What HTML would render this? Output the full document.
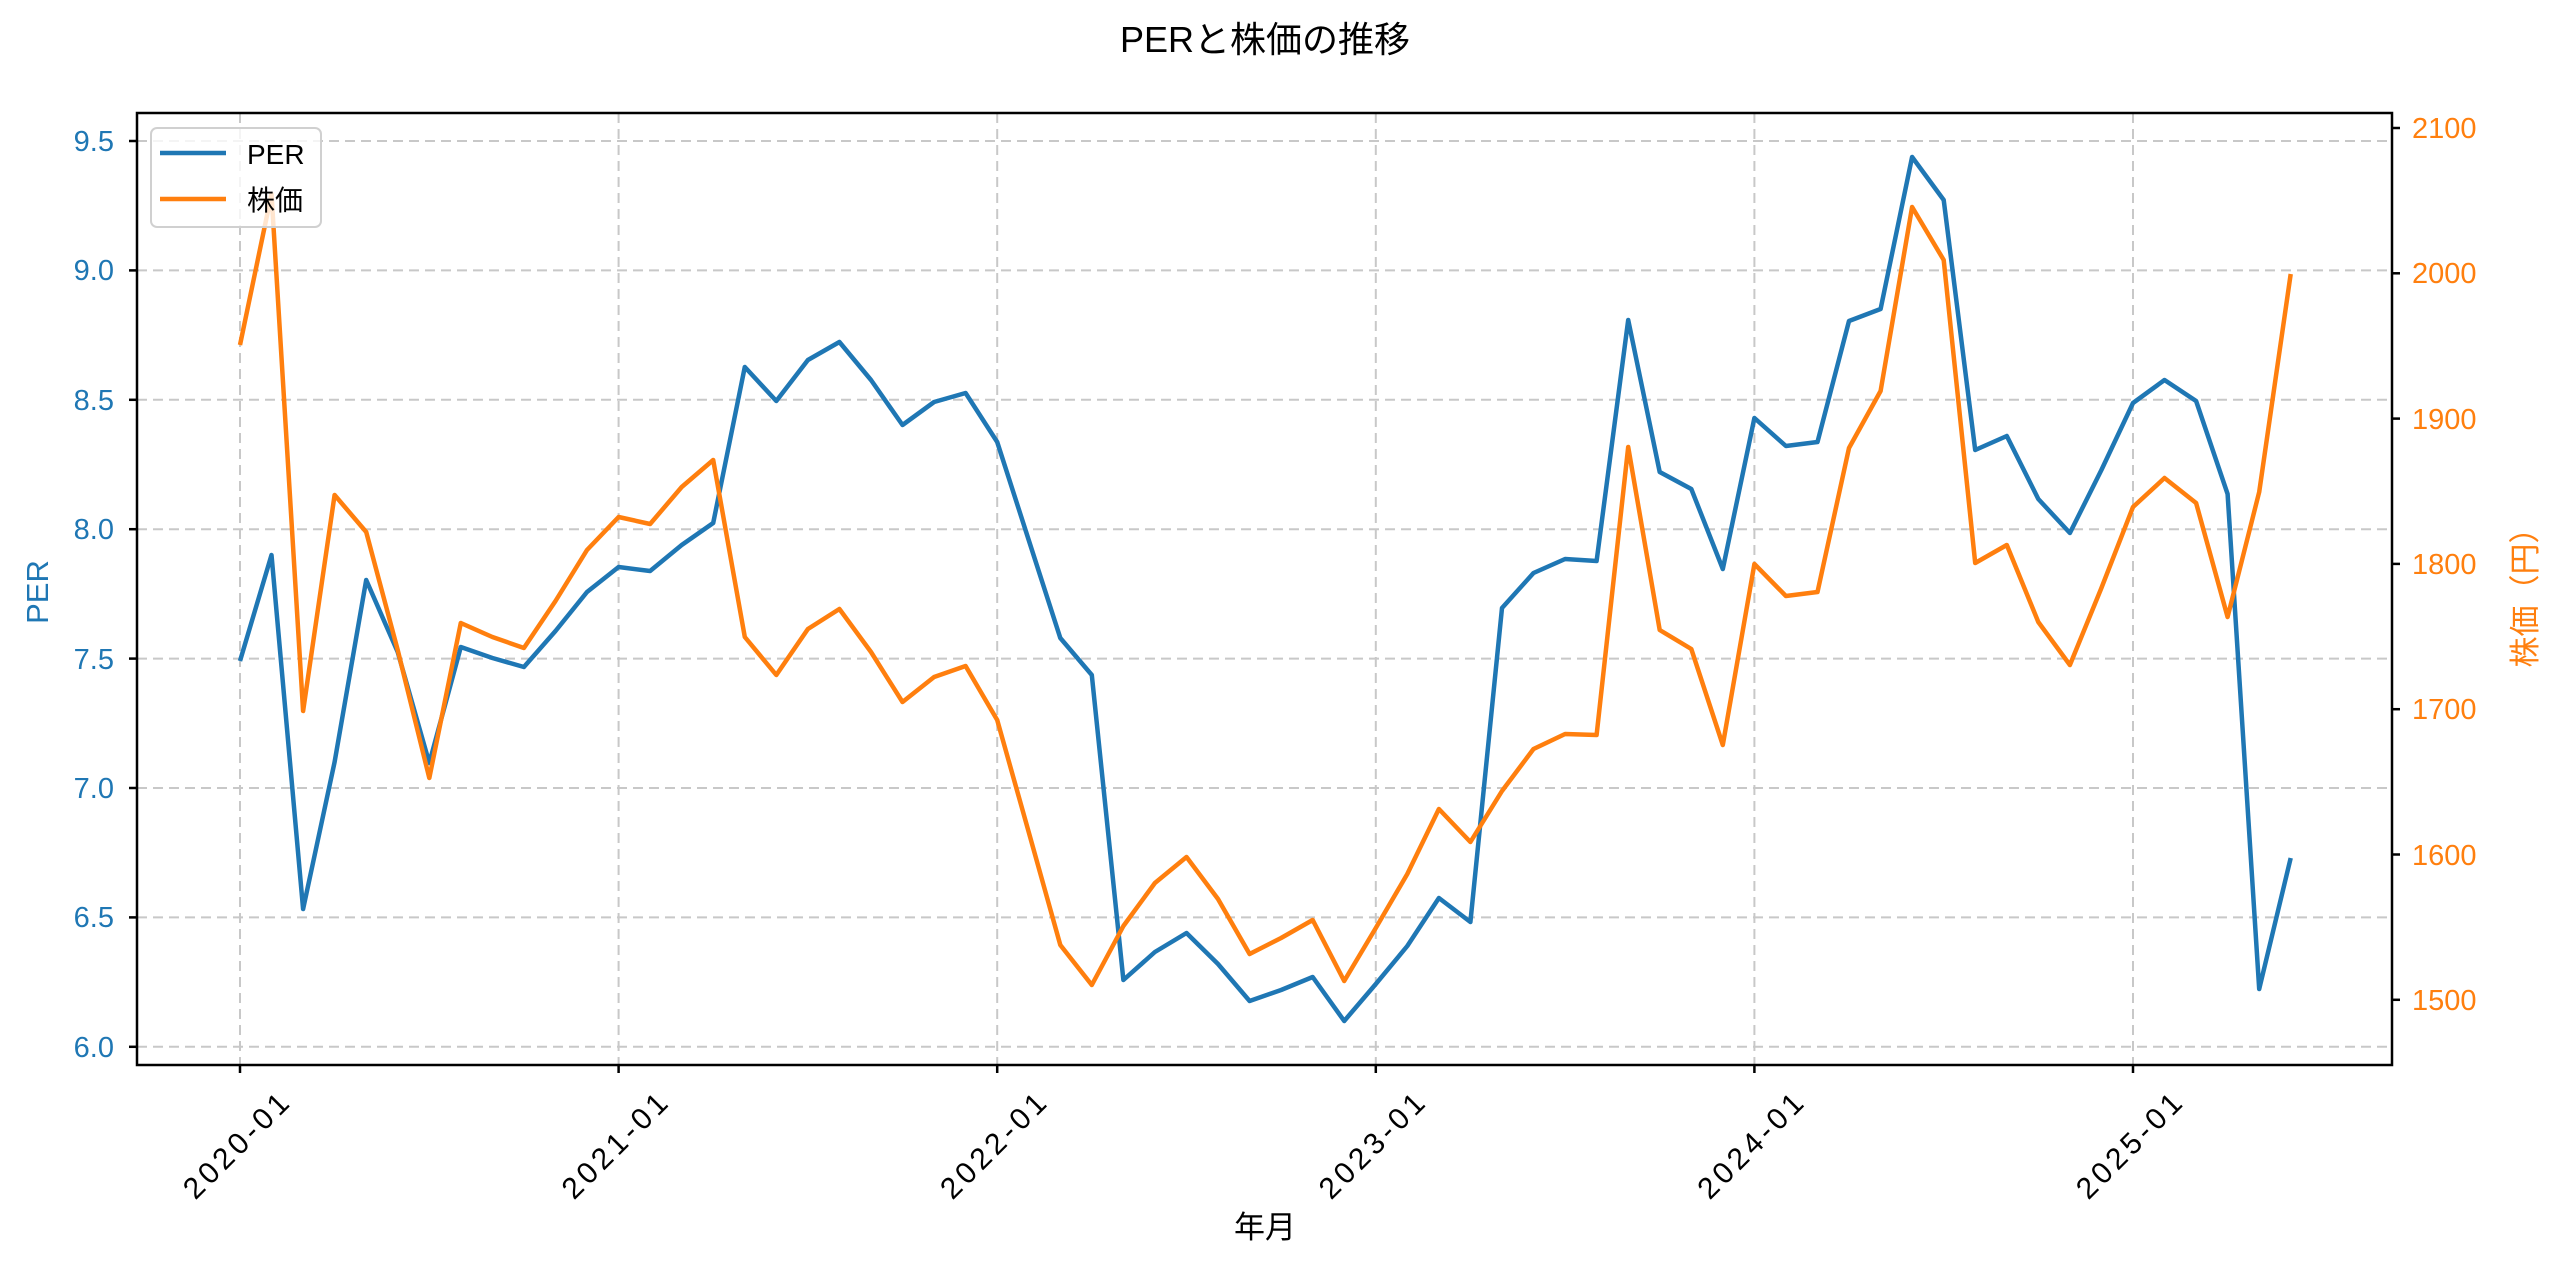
<!DOCTYPE html>
<html><head><meta charset="utf-8"><style>html,body{margin:0;padding:0;background:#fff}svg{display:block}text{font-family:"Liberation Sans","Noto Sans CJK JP",sans-serif}</style></head><body>
<svg width="2560" height="1269" viewBox="0 0 2560 1269" xmlns="http://www.w3.org/2000/svg">
<rect width="2560" height="1269" fill="#fff"/>
<text x="1265" y="52" font-size="36" text-anchor="middle" fill="#000">PERと株価の推移</text>
<g stroke="#c8c8c8" stroke-width="2" stroke-dasharray="10,6" fill="none">
<line x1="137" x2="2392" y1="141" y2="141"/><line x1="137" x2="2392" y1="270.4" y2="270.4"/><line x1="137" x2="2392" y1="399.8" y2="399.8"/><line x1="137" x2="2392" y1="529.2" y2="529.2"/><line x1="137" x2="2392" y1="658.6" y2="658.6"/><line x1="137" x2="2392" y1="788" y2="788"/><line x1="137" x2="2392" y1="917.4" y2="917.4"/><line x1="137" x2="2392" y1="1046.8" y2="1046.8"/>
<line y1="113" y2="1065" x1="240" x2="240"/><line y1="113" y2="1065" x1="618.6" x2="618.6"/><line y1="113" y2="1065" x1="997.2" x2="997.2"/><line y1="113" y2="1065" x1="1375.8" x2="1375.8"/><line y1="113" y2="1065" x1="1754.4" x2="1754.4"/><line y1="113" y2="1065" x1="2133" x2="2133"/>
</g>
<polyline fill="none" stroke="#1f77b4" stroke-width="4.5" stroke-linejoin="round" points="240,661 271.5,555 303.1,909 334.6,762 366.2,580 397.7,652 429.3,763 460.8,647 492.4,658 523.9,667 555.5,631 587,592 618.6,567 650.1,571 681.7,545 713.2,523 744.8,367 776.3,401 807.9,360 839.4,342 871,380 902.5,425 934.1,402 965.6,393 997.2,442 1028.7,540 1060.3,638 1091.8,675 1123.4,980 1154.9,952 1186.5,933 1218,964 1249.6,1001 1281.1,990 1312.7,977 1344.2,1021 1375.8,984 1407.3,946 1438.9,898 1470.4,922 1502,608 1533.5,573 1565.1,559 1596.6,561 1628.2,320 1659.7,472 1691.3,489 1722.8,569 1754.4,418 1785.9,446 1817.5,442 1849,321 1880.6,309 1912.1,157 1943.7,200 1975.2,450 2006.8,436 2038.3,499 2069.9,533 2101.4,470 2133,403 2164.5,380 2196.1,401 2227.6,494 2259.2,989 2290.7,858"/>
<polyline fill="none" stroke="#ff7f0e" stroke-width="4.5" stroke-linejoin="round" points="240,345 271.5,194 303.1,711 334.6,495 366.2,532 397.7,650 429.3,778 460.8,623 492.4,637 523.9,648 555.5,601 587,550 618.6,517 650.1,524 681.7,487 713.2,460 744.8,637 776.3,675 807.9,629 839.4,609 871,652 902.5,702 934.1,677 965.6,666 997.2,720 1028.7,832 1060.3,945 1091.8,985 1123.4,926 1154.9,883 1186.5,857 1218,899 1249.6,954 1281.1,938 1312.7,920 1344.2,981 1375.8,928 1407.3,874 1438.9,809 1470.4,842 1502,791 1533.5,749 1565.1,734 1596.6,735 1628.2,447 1659.7,630 1691.3,649 1722.8,745 1754.4,564 1785.9,596 1817.5,592 1849,448 1880.6,391 1912.1,207 1943.7,260 1975.2,563 2006.8,545 2038.3,622 2069.9,665 2101.4,588 2133,507 2164.5,478 2196.1,503 2227.6,617 2259.2,492 2290.7,274"/>
<rect x="137" y="113" width="2255" height="952" fill="none" stroke="#000" stroke-width="2.5"/>
<g stroke="#000" stroke-width="2.5">
<line x1="129" x2="137" y1="141" y2="141"/><line x1="129" x2="137" y1="270.4" y2="270.4"/><line x1="129" x2="137" y1="399.8" y2="399.8"/><line x1="129" x2="137" y1="529.2" y2="529.2"/><line x1="129" x2="137" y1="658.6" y2="658.6"/><line x1="129" x2="137" y1="788" y2="788"/><line x1="129" x2="137" y1="917.4" y2="917.4"/><line x1="129" x2="137" y1="1046.8" y2="1046.8"/>
<line x1="2392" x2="2400" y1="128" y2="128"/><line x1="2392" x2="2400" y1="273.3" y2="273.3"/><line x1="2392" x2="2400" y1="418.6" y2="418.6"/><line x1="2392" x2="2400" y1="563.9" y2="563.9"/><line x1="2392" x2="2400" y1="709.2" y2="709.2"/><line x1="2392" x2="2400" y1="854.5" y2="854.5"/><line x1="2392" x2="2400" y1="999.8" y2="999.8"/>
<line y1="1065" y2="1073" x1="240" x2="240"/><line y1="1065" y2="1073" x1="618.6" x2="618.6"/><line y1="1065" y2="1073" x1="997.2" x2="997.2"/><line y1="1065" y2="1073" x1="1375.8" x2="1375.8"/><line y1="1065" y2="1073" x1="1754.4" x2="1754.4"/><line y1="1065" y2="1073" x1="2133" x2="2133"/>
</g>
<g font-size="29" fill="#1f77b4" text-anchor="end">
<text x="114" y="151">9.5</text><text x="114" y="280">9.0</text><text x="114" y="410">8.5</text><text x="114" y="539">8.0</text><text x="114" y="669">7.5</text><text x="114" y="798">7.0</text><text x="114" y="927">6.5</text><text x="114" y="1057">6.0</text>
</g>
<g font-size="29" fill="#ff7f0e">
<text x="2412" y="138">2100</text><text x="2412" y="283">2000</text><text x="2412" y="429">1900</text><text x="2412" y="574">1800</text><text x="2412" y="719">1700</text><text x="2412" y="865">1600</text><text x="2412" y="1010">1500</text>
</g>
<g font-size="30" fill="#000" text-anchor="middle">
<text transform="translate(236,1146) rotate(-45)" dy="10" textLength="135">2020-01</text>
<text transform="translate(614.6,1146) rotate(-45)" dy="10" textLength="135">2021-01</text>
<text transform="translate(993.2,1146) rotate(-45)" dy="10" textLength="135">2022-01</text>
<text transform="translate(1371.8,1146) rotate(-45)" dy="10" textLength="135">2023-01</text>
<text transform="translate(1750.4,1146) rotate(-45)" dy="10" textLength="135">2024-01</text>
<text transform="translate(2129,1146) rotate(-45)" dy="10" textLength="135">2025-01</text>
</g>
<text x="1265" y="1238" font-size="31" text-anchor="middle" fill="#000">年月</text>
<text transform="translate(48,592) rotate(-90)" font-size="31" text-anchor="middle" fill="#1f77b4">PER</text>
<text transform="translate(2536,590) rotate(-90)" font-size="31" text-anchor="middle" fill="#ff7f0e">株価（円）</text>
<rect x="151" y="128" width="170" height="99" rx="6" fill="#fff" fill-opacity="0.8" stroke="#d0d0d0" stroke-width="2"/>
<line x1="160" x2="226" y1="153" y2="153" stroke="#1f77b4" stroke-width="4.5"/>
<line x1="160" x2="226" y1="199" y2="199" stroke="#ff7f0e" stroke-width="4.5"/>
<text x="247" y="164" font-size="28" fill="#000">PER</text>
<text x="247" y="210" font-size="28" fill="#000">株価</text>
</svg>
</body></html>
